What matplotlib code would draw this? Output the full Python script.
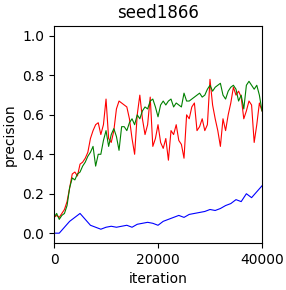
import numpy as np
import matplotlib
matplotlib.use('Agg')
import matplotlib.pyplot as plt

# 반복 횟수 (red/green: 500 간격, blue: 1000 간격)
iter_rg = np.arange(0, 40001, 500)
iter_b = np.arange(0, 40001, 1000)

red = [0.08, 0.09, 0.08, 0.10, 0.12, 0.16, 0.23, 0.30, 0.31, 0.29,
       0.35, 0.36, 0.38, 0.41, 0.48, 0.52, 0.55, 0.56, 0.50, 0.55,
       0.68, 0.48, 0.46, 0.52, 0.63, 0.67, 0.66, 0.65, 0.64, 0.58,
       0.48, 0.40, 0.60, 0.70, 0.58, 0.50, 0.55, 0.69, 0.44, 0.48,
       0.55, 0.46, 0.43, 0.48, 0.37, 0.52, 0.50, 0.55, 0.47, 0.45,
       0.38, 0.60, 0.58, 0.64, 0.66, 0.52, 0.54, 0.58, 0.52, 0.55,
       0.78, 0.65, 0.58, 0.52, 0.44, 0.58, 0.52, 0.60, 0.66, 0.74,
       0.70, 0.72, 0.69, 0.58, 0.62, 0.67, 0.65, 0.46, 0.55, 0.66,
       0.62]

green = [0.08, 0.10, 0.07, 0.09, 0.10, 0.14, 0.23, 0.28, 0.27, 0.30,
         0.31, 0.34, 0.36, 0.39, 0.41, 0.44, 0.34, 0.40, 0.40, 0.47,
         0.52, 0.44, 0.50, 0.53, 0.49, 0.42, 0.54, 0.54, 0.52, 0.56,
         0.58, 0.55, 0.60, 0.58, 0.62, 0.64, 0.63, 0.67, 0.68, 0.64,
         0.59, 0.65, 0.67, 0.65, 0.67, 0.68, 0.64, 0.66, 0.65, 0.64,
         0.71, 0.67, 0.67, 0.68, 0.69, 0.70, 0.71, 0.69, 0.70, 0.73,
         0.75, 0.72, 0.74, 0.75, 0.76, 0.70, 0.68, 0.72, 0.74, 0.75,
         0.73, 0.67, 0.70, 0.63, 0.75, 0.77, 0.75, 0.73, 0.75, 0.70,
         0.62]

blue = [0.00, 0.00, 0.03, 0.06, 0.08, 0.10, 0.07, 0.04, 0.03, 0.02,
        0.03, 0.035, 0.03, 0.035, 0.04, 0.03, 0.045, 0.05, 0.055, 0.05,
        0.04, 0.06, 0.07, 0.08, 0.09, 0.08, 0.095, 0.10, 0.105, 0.11,
        0.12, 0.115, 0.125, 0.14, 0.15, 0.17, 0.16, 0.20, 0.18, 0.21,
        0.24]

fig = plt.figure(figsize=(2.86, 2.9), dpi=100)
ax = fig.add_axes([0.189, 0.162, 0.727, 0.748])
ax.plot(iter_rg, red, color='red', lw=0.8)
ax.plot(iter_rg, green, color='green', lw=0.8)
ax.plot(iter_b, blue, color='blue', lw=0.8)

ax.set_xlim(0, 40000)
ax.set_ylim(-0.05, 1.05)
ax.set_xticks([0, 20000, 40000])
ax.set_yticks([0.0, 0.2, 0.4, 0.6, 0.8, 1.0])
ax.set_xlabel('iteration')
ax.set_ylabel('precision')
ax.set_title('seed1866')

fig.savefig('out.png', dpi=100)
